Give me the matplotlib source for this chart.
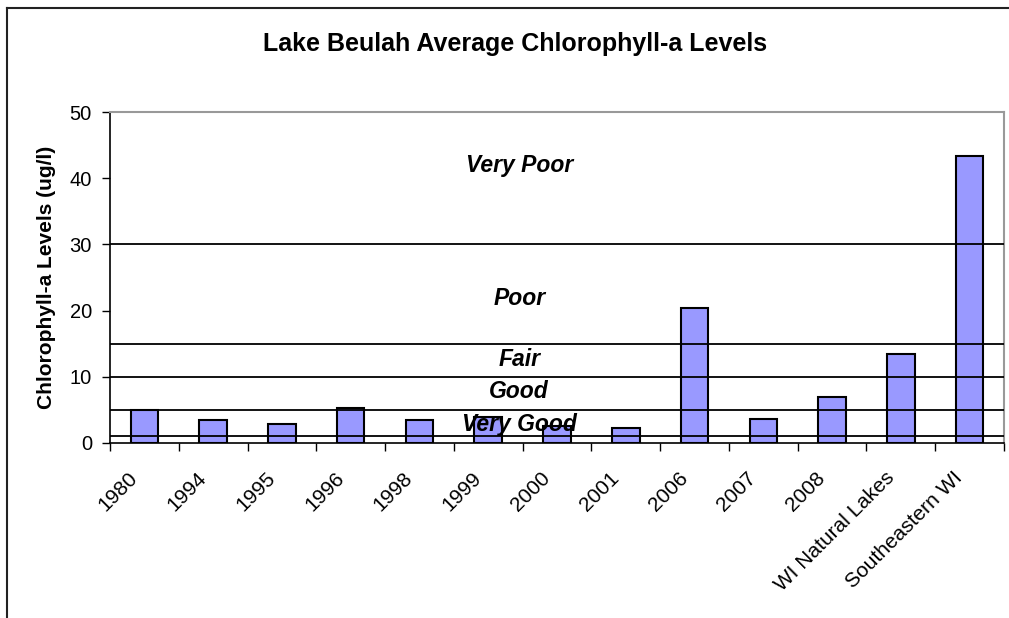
import matplotlib as mpl
mpl.use('Agg')
import matplotlib.pyplot as plt
from matplotlib.lines import Line2D

categories = ['1980', '1994', '1995', '1996', '1998', '1999', '2000', '2001',
              '2006', '2007', '2008', 'WI Natural Lakes', 'Southeastern WI']
chl_values = [5.0, 3.5, 2.9, 5.3, 3.4, 4.0, 2.5, 2.3, 20.4, 3.7, 6.9, 13.5, 43.4]

# trophic class boundaries and labels
class_lines = [1, 5, 10, 15, 30]
class_names = ['Very Poor', 'Poor', 'Fair', 'Good', 'Very Good']
class_label_y = [41.9, 21.8, 12.6, 7.8, 2.8]

plt.rcParams['font.family'] = ['Liberation Sans', 'DejaVu Sans']

fig = plt.figure(figsize=(10.09, 6.18), dpi=100)
ax = fig.add_axes([110 / 1009, 1 - 443 / 618, 894 / 1009, 331 / 618])

x = list(range(len(categories)))
ax.bar(x, chl_values, width=0.4, color='#9999FF', edgecolor='black',
       linewidth=1.5, zorder=2)

for yv in class_lines:
    ax.axhline(yv, color='black', linewidth=1.3, zorder=3)

for name, yv in zip(class_names, class_label_y):
    ax.text(5.45, yv, name, ha='center', va='center', fontsize=16.5,
            fontweight='bold', fontstyle='italic', zorder=4)

ax.set_xlim(-0.5, len(categories) - 0.5)
ax.set_ylim(0, 50)
ax.set_yticks([0, 10, 20, 30, 40, 50])
ax.tick_params(axis='y', direction='out', length=6, labelsize=14.5, width=1,
               pad=7)

ax.set_xticks([i - 0.5 for i in range(len(categories) + 1)])
ax.set_xticklabels([])
ax.tick_params(axis='x', direction='out', length=6, width=1)
for i, lab in enumerate(categories):
    ax.text(i - 0.24, -3.8, lab, rotation=45, ha='right', va='top',
            rotation_mode='anchor', fontsize=15)

ax.spines['top'].set_color('#999999')
ax.spines['right'].set_color('#999999')
ax.spines['top'].set_linewidth(1.5)
ax.spines['right'].set_linewidth(1.5)
ax.spines['left'].set_linewidth(1.2)
ax.spines['bottom'].set_linewidth(1.2)

ax.set_ylabel('Chlorophyll-a Levels (ug/l)', fontsize=15, fontweight='bold',
              labelpad=10)
fig.text(515 / 1009, 1 - 44 / 618, 'Lake Beulah Average Chlorophyll-a Levels',
         ha='center', va='center', fontsize=18, fontweight='bold')

# outer chart border (left and top edges visible)
fig.add_artist(Line2D([7 / 1009, 7 / 1009], [0, 1 - 8 / 618],
                      transform=fig.transFigure, color='#222222', linewidth=1.5))
fig.add_artist(Line2D([7 / 1009, 1], [1 - 8 / 618, 1 - 8 / 618],
                      transform=fig.transFigure, color='#222222', linewidth=1.5))

fig.savefig('out.png', dpi=100)
